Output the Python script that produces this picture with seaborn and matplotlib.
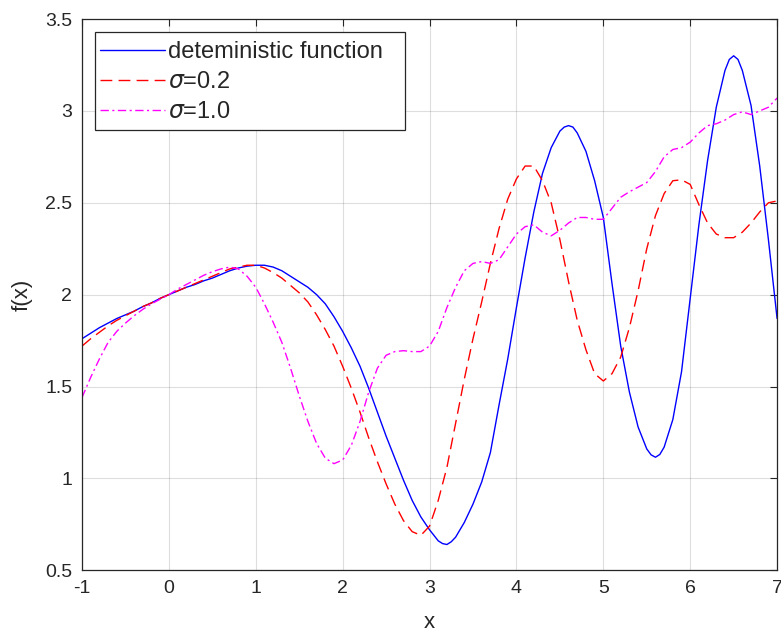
import numpy as np
import pandas as pd
import seaborn as sns
import matplotlib
matplotlib.use('Agg')
import matplotlib.pyplot as plt
from matplotlib.patches import Rectangle
from matplotlib.ticker import FormatStrFormatter

# values, x step 0.1 from -1 to 7
x_grid = np.round(np.arange(-1, 7.001, 0.1), 2)

y_det = [1.76, 1.79, 1.82, 1.845, 1.87, 1.89, 1.91, 1.935, 1.955, 1.98,
         2.00, 2.02, 2.04, 2.055, 2.075, 2.09, 2.11, 2.13, 2.145, 2.155,
         2.16, 2.16, 2.15, 2.13, 2.10, 2.07, 2.04, 2.00, 1.95, 1.88,
         1.80, 1.71, 1.61, 1.49, 1.36, 1.23, 1.11, 0.99, 0.88, 0.79,
         0.72, 0.66, 0.64, 0.68, 0.76, 0.86, 0.98, 1.14, 1.40, 1.65,
         1.93, 2.20, 2.45, 2.66, 2.80, 2.89, 2.92, 2.88, 2.78, 2.62,
         2.42, 2.06, 1.72, 1.47, 1.28, 1.16, 1.115, 1.17, 1.32, 1.58,
         1.98, 2.38, 2.73, 3.02, 3.22, 3.30, 3.22, 3.03, 2.70, 2.30,
         1.87]
# extra points near the turning points of the deterministic curve
x_det_extra = [3.15, 3.25, 4.55, 4.65, 5.55, 5.65, 6.45, 6.55]
y_det_extra = [0.645, 0.655, 2.912, 2.912, 1.128, 1.13, 3.28, 3.28]

y_s02 = [1.72, 1.76, 1.795, 1.83, 1.86, 1.885, 1.91, 1.935, 1.955, 1.98,
         2.00, 2.02, 2.04, 2.06, 2.08, 2.10, 2.12, 2.14, 2.15, 2.16,
         2.16, 2.145, 2.12, 2.09, 2.05, 2.01, 1.96, 1.89, 1.81, 1.72,
         1.61, 1.49, 1.36, 1.22, 1.09, 0.97, 0.86, 0.77, 0.71, 0.69,
         0.74, 0.88, 1.06, 1.30, 1.54, 1.76, 1.96, 2.17, 2.36, 2.52,
         2.63, 2.70, 2.70, 2.62, 2.50, 2.30, 2.07, 1.86, 1.70, 1.57,
         1.53, 1.57, 1.66, 1.82, 2.02, 2.25, 2.43, 2.55, 2.62, 2.625,
         2.60, 2.49, 2.39, 2.33, 2.31, 2.31, 2.34, 2.39, 2.45, 2.50,
         2.51]

y_s10 = [1.44, 1.55, 1.65, 1.74, 1.80, 1.845, 1.885, 1.92, 1.95, 1.975,
         2.00, 2.03, 2.055, 2.08, 2.105, 2.125, 2.14, 2.15, 2.14, 2.10,
         2.04, 1.95, 1.85, 1.74, 1.60, 1.45, 1.31, 1.19, 1.11, 1.08,
         1.10, 1.18, 1.31, 1.47, 1.60, 1.67, 1.69, 1.695, 1.69, 1.69,
         1.72, 1.80, 1.93, 2.04, 2.13, 2.17, 2.18, 2.17, 2.19, 2.26,
         2.33, 2.37, 2.38, 2.34, 2.32, 2.35, 2.39, 2.42, 2.42, 2.41,
         2.41, 2.47, 2.53, 2.56, 2.585, 2.61, 2.67, 2.75, 2.79, 2.80,
         2.83, 2.88, 2.92, 2.93, 2.95, 2.98, 2.995, 2.98, 3.00, 3.02,
         3.07]

labels = ['deteministic function', r'$\sigma$=0.2', r'$\sigma$=1.0']
x_ticks = list(range(-1, 8))
y_ticks = [0.5, 1, 1.5, 2, 2.5, 3, 3.5]

det = pd.DataFrame({'x': np.concatenate([x_grid, x_det_extra]),
                    'y': np.concatenate([y_det, y_det_extra])}).sort_values('x')
s02 = pd.DataFrame({'x': x_grid, 'y': y_s02})
s10 = pd.DataFrame({'x': x_grid, 'y': y_s10})

sns.set_style('white')
plt.rcParams['font.family'] = ['Liberation Sans', 'DejaVu Sans']
plt.rcParams['mathtext.fontset'] = 'dejavusans'
plt.rcParams['axes.unicode_minus'] = False

txt = (0.15, 0.15, 0.15)
fig = plt.figure(figsize=(7.81, 6.35), dpi=100)
ax = fig.add_axes([0.105, 0.102, 0.89, 0.868])

sns.lineplot(data=det, x='x', y='y', ax=ax, color=(0, 0, 1), linewidth=1.0,
             label=labels[0], estimator=None, sort=False)
sns.lineplot(data=s02, x='x', y='y', ax=ax, color=(1, 0, 0), linewidth=1.0,
             label=labels[1], estimator=None)
sns.lineplot(data=s10, x='x', y='y', ax=ax, color=(1, 0, 1), linewidth=1.0,
             label=labels[2], estimator=None)
ax.lines[1].set_dashes((8.5, 4.5))
ax.lines[2].set_dashes((6, 2.5, 1.5, 2.5))

ax.set_xlim(-1, 7)
ax.set_ylim(0.5, 3.5)
ax.set_xticks(x_ticks)
ax.set_yticks(y_ticks)
ax.yaxis.set_major_formatter(FormatStrFormatter('%g'))
ax.grid(True, color=txt, alpha=0.15, linewidth=0.8)
ax.tick_params(direction='in', length=5, width=0.8, colors=txt,
               labelsize=14, top=True, right=True, pad=7)
for sp in ax.spines.values():
    sp.set_color(txt)
    sp.set_linewidth(0.9)
ax.set_xlabel('x', fontsize=16, color=txt, labelpad=11)
ax.set_ylabel('f(x)', fontsize=16, color=txt, labelpad=9)

# legend box drawn as in the MATLAB figure (wider on the right)
ax.add_patch(Rectangle((0.0187, 0.7985), 0.446, 0.178, transform=ax.transAxes,
                       facecolor='white', edgecolor=txt, linewidth=0.9, zorder=4.5))
leg = ax.legend(loc='upper left', bbox_to_anchor=(0.0259, 0.960), fontsize=17,
                handlelength=2.75, handletextpad=0.15, borderpad=0,
                labelspacing=0.34, frameon=False, borderaxespad=0)
leg.set_zorder(5)

fig.savefig('out.png', dpi=100)
